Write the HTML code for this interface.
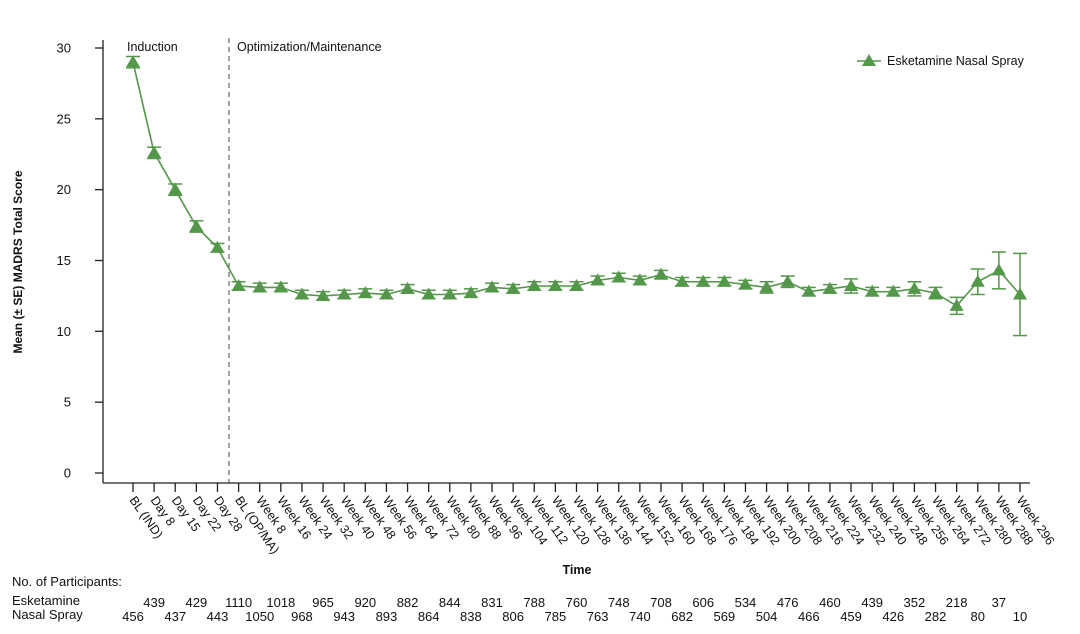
<!DOCTYPE html>
<html><head><meta charset="utf-8"><style>
body{margin:0;background:#fff;}
svg{display:block;font-family:"Liberation Sans",Arial,sans-serif;}
</style></head><body>
<svg id="c" width="1080" height="634"></svg>
<script>
const categories=["BL (IND)","Day 8","Day 15","Day 22","Day 28","BL (OP/MA)","Week 8","Week 16","Week 24","Week 32","Week 40","Week 48","Week 56","Week 64","Week 72","Week 80","Week 88","Week 96","Week 104","Week 112","Week 120","Week 128","Week 136","Week 144","Week 152","Week 160","Week 168","Week 176","Week 184","Week 192","Week 200","Week 208","Week 216","Week 224","Week 232","Week 240","Week 248","Week 256","Week 264","Week 272","Week 280","Week 288","Week 296"];
const means=[29.0,22.6,20.0,17.4,15.9,13.2,13.1,13.1,12.6,12.5,12.6,12.7,12.6,13.0,12.6,12.6,12.7,13.1,13.0,13.2,13.2,13.2,13.6,13.8,13.6,14.0,13.5,13.5,13.5,13.3,13.1,13.5,12.8,13.0,13.2,12.8,12.8,13.0,12.7,11.8,13.5,14.3,12.6];
const se=[0.4,0.4,0.4,0.4,0.3,0.3,0.3,0.3,0.3,0.3,0.3,0.3,0.3,0.3,0.3,0.3,0.3,0.3,0.3,0.3,0.3,0.3,0.3,0.3,0.3,0.3,0.3,0.3,0.3,0.3,0.4,0.4,0.3,0.3,0.5,0.3,0.3,0.5,0.4,0.6,0.9,1.3,2.9];
const participants=[456,439,437,429,443,1110,1050,1018,968,965,943,920,893,882,864,844,838,831,806,788,785,760,763,748,740,708,682,606,569,534,504,476,466,460,459,439,426,352,282,218,80,37,10];
const yTicks=[0,5,10,15,20,25,30];
const NS="http://www.w3.org/2000/svg";
const svg=document.getElementById('c');
const x0=133,x1=1020,yb=473,yt=48;
const xs=i=>x0+i*(x1-x0)/(categories.length-1);
const ys=v=>yb-(v/30)*(yb-yt);
function mk(t,a,p){const e=document.createElementNS(NS,t);for(const k in a)e.setAttribute(k,a[k]);(p||svg).appendChild(e);return e;}
const green="#54974a";
let e=mk('line',{x1:103,y1:40,x2:103,y2:483,stroke:'#222','stroke-width':1.3});


e=mk('line',{x1:103,y1:483,x2:1030,y2:483,stroke:'#222','stroke-width':1.3});


yTicks.forEach(v=>{
 mk('line',{x1:95,y1:ys(v),x2:103,y2:ys(v),stroke:'#222','stroke-width':1.3});
 const t=mk('text',{x:71,y:ys(v)+4.5,'text-anchor':'end','font-size':13,fill:'#111'});t.textContent=v;
 
 
});
categories.forEach((c,i)=>{
 const x=xs(i);
 mk('line',{x1:x,y1:483,x2:x,y2:492,stroke:'#222','stroke-width':1.3});
 const t=mk('text',{x:x-4,y:500,'font-size':12.5,fill:'#111',transform:`rotate(55 ${x-4} 500)`});t.textContent=c;
 
 
 const p=mk('text',{x:x,y:i%2?607:621,'text-anchor':'middle','font-size':13,fill:'#111'});p.textContent=participants[i];
 
 
});
e=mk('line',{x1:229,y1:38,x2:229,y2:483,stroke:'#444','stroke-width':1,'stroke-dasharray':'5,4'});


function txt(s,a,name){const t=mk('text',a);t.textContent=s;return t;}
txt('Induction',{x:127,y:51,'font-size':12.5,fill:'#111'},'induction-label');
txt('Optimization/Maintenance',{x:237,y:51,'font-size':12.5,fill:'#111'},'maintenance-label');
txt('Mean (± SE) MADRS Total Score',{x:22,y:262,'font-size':12,'font-weight':'bold','text-anchor':'middle',fill:'#111',transform:'rotate(-90 22 262)'},'y-axis-title');
txt('Time',{x:577,y:574,'font-size':12.5,'font-weight':'bold','text-anchor':'middle',fill:'#111'},'x-axis-title');
txt('No. of Participants:',{x:12,y:586,'font-size':13,fill:'#111'},'participants-title');
txt('Esketamine',{x:12,y:605,'font-size':13,fill:'#111'},'participants-row-label');
txt('Nasal Spray',{x:12,y:619,'font-size':13,fill:'#111'},'participants-row-label-2');
const line=mk('polyline',{points:means.map((v,i)=>xs(i)+','+ys(v)).join(' '),fill:'none',stroke:green,'stroke-width':1.6});


means.forEach((v,i)=>{
 const x=xs(i),g=mk('g',{});
 
 
 const a=ys(v+se[i]),b=ys(v-se[i]);
 mk('line',{x1:x,y1:a,x2:x,y2:b,stroke:green,'stroke-width':1.5},g);
 mk('line',{x1:x-7,y1:a,x2:x+7,y2:a,stroke:green,'stroke-width':1.5},g);
 mk('line',{x1:x-7,y1:b,x2:x+7,y2:b,stroke:green,'stroke-width':1.5},g);
 const y=ys(v);
 mk('polygon',{points:`${x},${y-7} ${x-7},${y+5} ${x+7},${y+5}`,fill:green},g);
});
const lg=mk('g',{});


mk('line',{x1:857,y1:61,x2:881,y2:61,stroke:green,'stroke-width':1.6},lg);
mk('polygon',{points:'869,54 862,66 876,66',fill:green},lg);
const lt=mk('text',{x:887,y:65,'font-size':12.5,fill:'#111'},lg);lt.textContent='Esketamine Nasal Spray';
</script>
</body></html>
